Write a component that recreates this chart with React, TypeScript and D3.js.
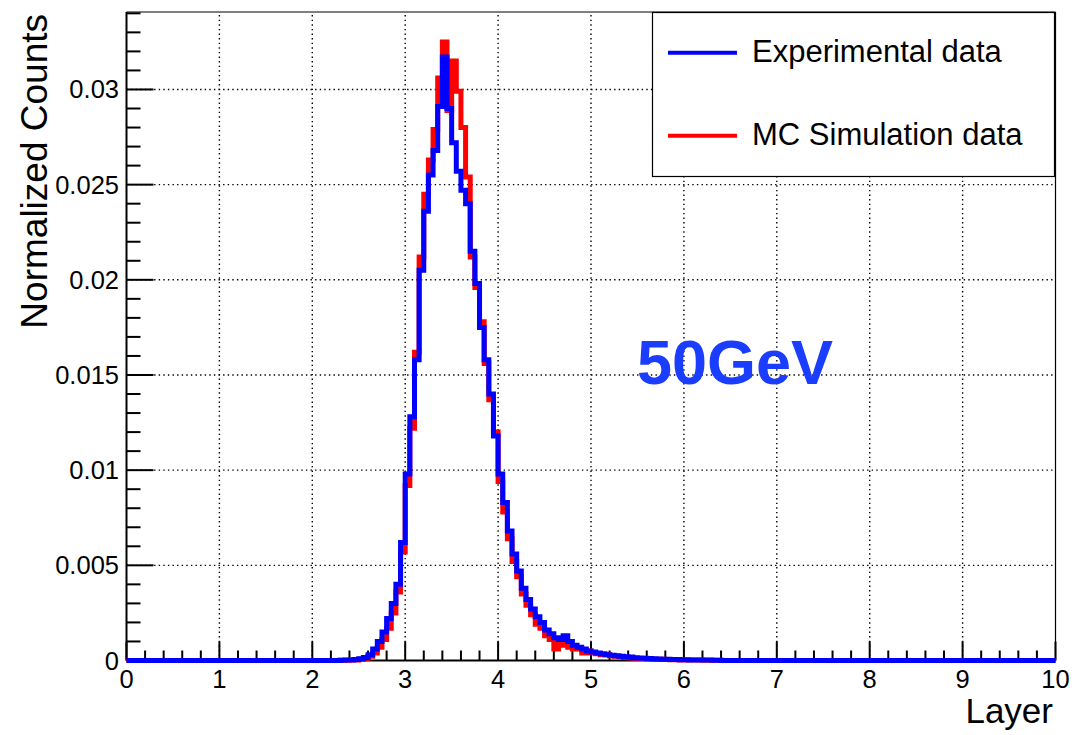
import React from "react";
import * as d3 from "d3";

// ---- Data ----
const binWidth = 0.05;
const nBins = 200; // 0..10
const firstNonZeroBin = 2.3; // lower edge of first listed bin

const experimentalValues = [
  0.00001, 0.00002, 0.00003, 0.00005, 0.00009, 0.00016, 0.0003, 0.0006, 0.001, 0.0015,
  0.0022, 0.003, 0.004, 0.0062, 0.0098, 0.0128, 0.0158, 0.0205, 0.0236, 0.0255,
  0.0268, 0.0291, 0.0317, 0.029, 0.0272, 0.0257, 0.0247, 0.024, 0.0215, 0.0198,
  0.0175, 0.0158, 0.014, 0.0118, 0.0098, 0.0083, 0.0068, 0.0056, 0.0047, 0.0038,
  0.0032, 0.0027, 0.0023, 0.002, 0.0016, 0.0014, 0.0012, 0.0011, 0.0013, 0.001,
  0.0008, 0.0007, 0.0006, 0.0005, 0.00045, 0.0004, 0.00035, 0.0003, 0.00028, 0.00025,
  0.00022, 0.0002, 0.00018, 0.00015, 0.00013, 0.00012, 0.0001, 0.00009, 0.00008, 0.00007,
  0.00006, 0.00005, 0.00005, 0.00004, 0.00004, 0.00003, 0.00003, 0.00002, 0.00002, 0.00002,
  0.00001, 0.00001,
];

const simulationValues = [
  0.00001, 0.00001, 0.00002, 0.00003, 0.00006, 0.00012, 0.00022, 0.0004, 0.0007, 0.0011,
  0.0017, 0.0025, 0.0036, 0.0057, 0.0092, 0.0122, 0.0162, 0.0212, 0.0245, 0.0263,
  0.0279, 0.0306, 0.0325, 0.0289, 0.0315, 0.0299, 0.028, 0.0254, 0.0212, 0.0196,
  0.0178, 0.0156, 0.0137, 0.012, 0.0094, 0.0078, 0.0064, 0.0052, 0.0044, 0.0035,
  0.0029, 0.0024, 0.0019, 0.0017, 0.0013, 0.0011, 0.0006, 0.0009, 0.0008, 0.0007,
  0.0006, 0.0006, 0.0004, 0.0005, 0.0004, 0.00035, 0.0003, 0.00032, 0.00025, 0.00022,
  0.0002, 0.00016, 0.00015, 0.00012, 0.0001, 0.0001, 0.00008, 0.00007, 0.00006, 0.00006,
  0.00005, 0.00004, 0.00004, 0.00003, 0.00003, 0.00002, 0.00002, 0.00002, 0.00001, 0.00001,
  0.00001, 0.00001,
];

const xTicks = [0, 1, 2, 3, 4, 5, 6, 7, 8, 9, 10];
const yTicks = [0, 0.005, 0.01, 0.015, 0.02, 0.025, 0.03];
const yTickLabels = ["0", "0.005", "0.01", "0.015", "0.02", "0.025", "0.03"];

const legendEntries = [
  { label: "Experimental data", color: "#0000ff" },
  { label: "MC Simulation data", color: "#ff0000" },
];

const xTitle = "Layer";
const yTitle = "Normalized Counts";
const energyLabel = "50GeV";

// ---- Layout ----
const W = 1085;
const H = 735;
const left = 126.5;
const right = 1055.5;
const top = 12;
const bottom = 660.5;
const yMax = 0.03407;
const FONT = "'Liberation Sans', Arial, Helvetica, sans-serif";

function fullHistogram(values: number[]): number[] {
  const startIdx = Math.round(firstNonZeroBin / binWidth);
  const out: number[] = [];
  for (let i = 0; i < nBins; i++) {
    const j = i - startIdx;
    out.push(j >= 0 && j < values.length ? values[j] : 0);
  }
  return out;
}

export default function App() {
  const x = d3.scaleLinear().domain([0, 10]).range([left, right]);
  const y = d3.scaleLinear().domain([0, yMax]).range([bottom, top]);

  const stepLine = d3
    .line<[number, number]>()
    .x((d) => x(d[0]))
    .y((d) => y(d[1]))
    .curve(d3.curveStepAfter);

  const histPath = (vals: number[]) => {
    const full = fullHistogram(vals);
    const pts: [number, number][] = full.map((v, i) => [i * binWidth, v]);
    pts.push([10, full[full.length - 1]]);
    return stepLine(pts) || "";
  };

  const xMinor = d3.range(0, 10.0001, 0.2).filter((v) => Math.abs(v - Math.round(v)) > 1e-6);
  const yMinor = d3.range(0, 0.03405, 0.001).filter((v) => Math.abs(v / 0.005 - Math.round(v / 0.005)) > 1e-6);

  const majorY = 27;
  const minorY = 14;
  const majorX = 19;
  const minorX = 10;

  return (
    <svg
      width={W}
      height={H}
      style={{ position: "absolute", left: 0, top: 0, background: "#fff" }}
      fontFamily={FONT}
    >
      <rect x={0} y={0} width={W} height={H} fill="#fff" />
      {/* grid */}
      <g stroke="#000" strokeWidth={1.4} strokeDasharray="1.4 3.2">
        {xTicks.slice(1, -1).map((t) => (
          <line key={"gx" + t} x1={x(t)} x2={x(t)} y1={bottom} y2={top} />
        ))}
        {yTicks.slice(1).map((t) => (
          <line key={"gy" + t} x1={left} x2={right} y1={y(t)} y2={y(t)} />
        ))}
      </g>

      {/* frame */}
      <line x1={left} x2={right} y1={top} y2={top} stroke="#000" strokeWidth={1.2} />
      <line x1={right} x2={right} y1={top} y2={bottom} stroke="#000" strokeWidth={1.2} />

      {/* axes */}
      <g stroke="#000">
        <line x1={left} x2={left} y1={top} y2={bottom} strokeWidth={2} />
        <line x1={left} x2={right} y1={bottom} y2={bottom} strokeWidth={2} />
        {yTicks.map((t) => (
          <line key={"yt" + t} x1={left} x2={left + majorY} y1={y(t)} y2={y(t)} strokeWidth={2} />
        ))}
        {yMinor.map((t, i) => (
          <line key={"ym" + i} x1={left} x2={left + minorY} y1={y(t)} y2={y(t)} strokeWidth={2} />
        ))}
        {xTicks.map((t) => (
          <line key={"xt" + t} x1={x(t)} x2={x(t)} y1={bottom} y2={bottom - majorX} strokeWidth={2} />
        ))}
        {xMinor.map((t, i) => (
          <line key={"xm" + i} x1={x(t)} x2={x(t)} y1={bottom} y2={bottom - minorX} strokeWidth={2} />
        ))}
      </g>

      {/* histograms */}
      <path d={histPath(simulationValues)} fill="none" stroke="#ff0000" strokeWidth={5} />
      <path d={histPath(experimentalValues)} fill="none" stroke="#0000ff" strokeWidth={5} />

      {/* tick labels */}
      <g fontSize={25.5} fill="#000">
        {xTicks.map((t) => (
          <text key={"xl" + t} x={x(t)} y={688} textAnchor="middle">
            {t}
          </text>
        ))}
        {yTicks.map((t, i) => (
          <text key={"yl" + t} x={119} y={y(t) + 9} textAnchor="end">
            {yTickLabels[i]}
          </text>
        ))}
      </g>

      {/* titles */}
      <text x={1053} y={723} fontSize={35} textAnchor="end" fill="#000">
        {xTitle}
      </text>
      <text
        transform={`translate(47, ${top + 2}) rotate(-90)`}
        fontSize={37}
        textAnchor="end"
        fill="#000"
      >
        {yTitle}
      </text>

      {/* energy label */}
      <text x={637} y={384} fontSize={63} fontWeight="bold" fill="#1a3dff">
        {energyLabel}
      </text>

      {/* legend */}
      <rect x={652.5} y={12.5} width={402} height={164} fill="#fff" stroke="#000" strokeWidth={1.2} />
      <line x1={1055} x2={1055} y1={12} y2={177} stroke="#000" strokeWidth={2} />
      {legendEntries.map((e, i) => {
        const ly = 52.7 + i * 83;
        return (
          <g key={e.label}>
            <line x1={668} x2={737} y1={ly} y2={ly} stroke={e.color} strokeWidth={4} />
            <text x={752} y={ly + 9.5} fontSize={31} fill="#000">
              {e.label}
            </text>
          </g>
        );
      })}
    </svg>
  );
}
